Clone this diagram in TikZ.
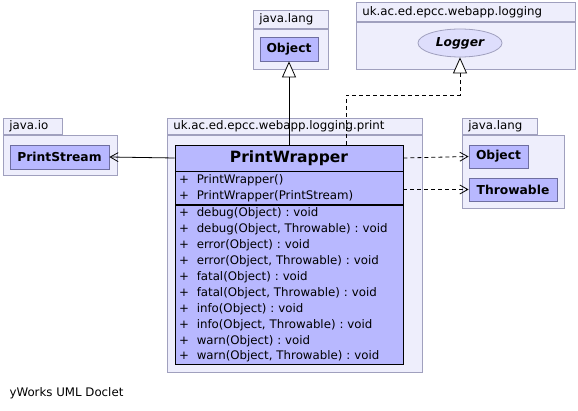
\documentclass[tikz,border=0pt]{standalone}
\usepackage{fontspec}
\setmainfont{DejaVu Sans}
\usetikzlibrary{arrows.meta,shapes.geometric}
\definecolor{pkgfill}{RGB}{238,238,252}
\definecolor{pkgline}{RGB}{160,160,190}
\definecolor{clsfill}{RGB}{184,184,255}
\definecolor{clsline}{RGB}{110,110,160}
\definecolor{ifcfill}{RGB}{222,222,252}
\frenchspacing
\begin{document}
\begin{tikzpicture}[x=1pt,y=-1pt,
    pkgbody/.style={
        rectangle,draw=pkgline,fill=pkgfill,line width=0.8pt,
        anchor=north west,inner sep=0pt
    },
    pkgtab/.style={
        rectangle,draw=pkgline,fill=pkgfill,line width=0.8pt,
        anchor=south west,inner xsep=6pt,inner ysep=0pt,align=left,
        font=\fontsize{11.8}{13}\selectfont
    },
    klass/.style={
        rectangle,draw=clsline,fill=clsfill,line width=0.8pt,
        inner sep=0pt,font=\bfseries\fontsize{12.3}{14}\selectfont
    },
    members/.style={
        rectangle,draw=black,fill=clsfill,line width=0.8pt,
        anchor=north,inner xsep=4pt,inner ysep=0pt,align=left,
        minimum width=228pt,text width=220pt,
        font=\fontsize{11.8}{15.9}\selectfont
    },
    extends/.style={line width=0.8pt,-{Triangle[length=16pt,width=14pt,fill=white]}},
    realizes/.style={extends,dash pattern=on 4pt off 3pt},
    uses/.style={line width=0.8pt,dash pattern=on 4pt off 3pt,-{Straight Barb[length=8pt,width=9pt]}},
    assoc/.style={line width=0.8pt,-{Straight Barb[length=8pt,width=9pt]}}
    ]
    \useasboundingbox (0,0) rectangle (578,411);

    % packages
    \node [pkgbody, minimum width=75pt, minimum height=40pt] (langbody) at (253,29) {};
    \node [pkgtab, text width=63pt, minimum height=18pt] (langtab) at (langbody.north west) {java.lang};
    \node [pkgbody, minimum width=219pt, minimum height=47pt] (logbody) at (356,22) {};
    \node [pkgtab, text width=207pt, minimum height=19pt] (logtab) at (logbody.north west) {uk.ac.ed.epcc.webapp.logging};
    \node [pkgbody, minimum width=114pt, minimum height=40pt] (iobody) at (3,135) {};
    \node [pkgtab, text width=47pt, minimum height=16pt] (iotab) at (iobody.north west) {java.io};
    \node [pkgbody, minimum width=255pt, minimum height=237pt] (printbody) at (167,135) {};
    \node [pkgtab, text width=243pt, minimum height=16pt] (printtab) at (printbody.north west) {uk.ac.ed.epcc.webapp.logging.print};
    \node [pkgbody, minimum width=102pt, minimum height=73pt] (langrbody) at (462,135) {};
    \node [pkgtab, text width=63pt, minimum height=16pt] (langrtab) at (langrbody.north west) {java.lang};

    % classes
    \node [klass, minimum width=58pt, minimum height=24pt] (objtop) at (289,49) {Object};
    \node [ellipse, draw=pkgline, fill=ifcfill, line width=0.8pt, minimum width=84pt, minimum height=28pt,
        inner sep=0pt, font=\bfseries\itshape\fontsize{12.3}{14}\selectfont] (logger) at (460,43) {Logger};
    \node [klass, minimum width=99pt, minimum height=24pt] (pstream) at (59.5,157) {PrintStream};
    \node [klass, minimum width=59pt, minimum height=23pt] (objright) at (498.5,156.5) {Object};
    \node [klass, minimum width=88pt, minimum height=23pt] (throwable) at (513,189.5) {Throwable};

    % PrintWrapper
    \node [klass, draw=black, minimum width=228pt, minimum height=26pt,
        font=\bfseries\fontsize{15.5}{17}\selectfont] (pwname) at (289,158) {PrintWrapper};
    \node [members, minimum height=33pt] (pwctor) at (pwname.south) {+\ \ PrintWrapper()\\+\ \ PrintWrapper(PrintStream)};
    \node [members, minimum height=159pt] (pwops) at (pwctor.south) {%
        +\ \ debug(Object) : void\\
        +\ \ debug(Object, Throwable) : void\\
        +\ \ error(Object) : void\\
        +\ \ error(Object, Throwable) : void\\
        +\ \ fatal(Object) : void\\
        +\ \ fatal(Object, Throwable) : void\\
        +\ \ info(Object) : void\\
        +\ \ info(Object, Throwable) : void\\
        +\ \ warn(Object) : void\\
        +\ \ warn(Object, Throwable) : void};

    % connectors
    \coordinate (bend) at (346,95);
    \draw [extends] (pwname.north) -- (objtop.south);
    \draw [realizes] (bend |- pwname.north) -- (bend) -| (logger.south);
    \draw [assoc] (pwname.west) -- (pstream.east);
    \draw [uses] (pwname.east) -- (objright.west);
    \draw [uses] (throwable.west -| pwctor.east) -- (throwable.west);

    \node [anchor=west, font=\fontsize{11.8}{13}\selectfont] (credit) at (6,393) {yWorks UML Doclet};
\end{tikzpicture}
\end{document}
